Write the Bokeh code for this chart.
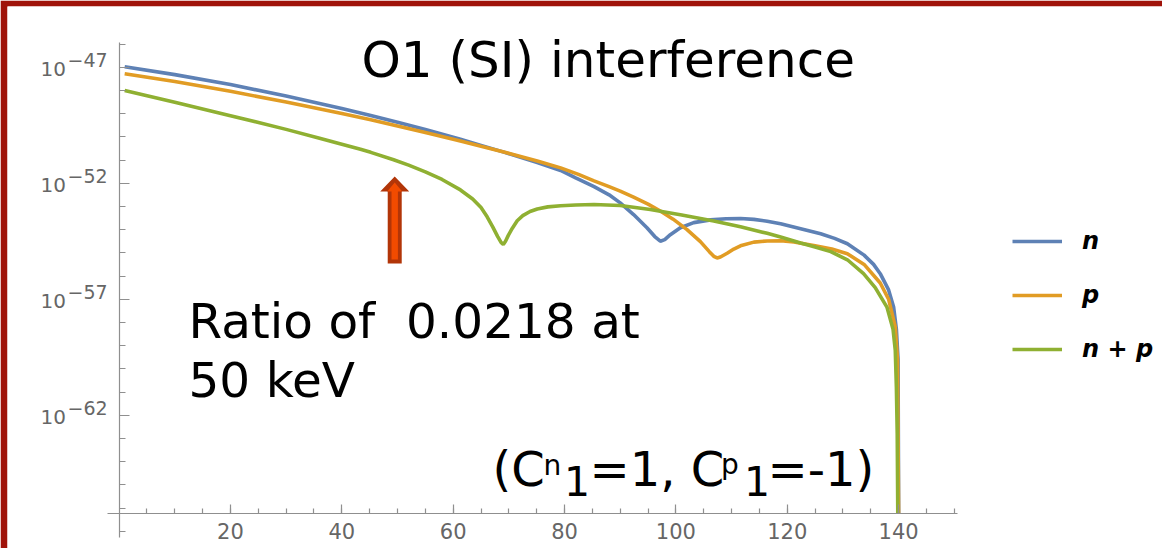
import numpy as np
from bokeh.plotting import figure
from bokeh.models import Range1d, FixedTicker, Label, Legend, LegendItem
from bokeh.embed import file_html
from bokeh.resources import INLINE

# ---------------- data ----------------
# recoil energy [keV] and log10 of the differential rate for each coupling
energy_n = [1, 10, 20, 30, 40, 45.2, 50, 55, 61.3, 65, 69.1, 75.1, 79.3, 82, 85.3, 88,
            90.0, 92.4, 94.8, 96.2, 97.2, 98.0, 99.0, 100.8, 103.2, 106.2, 109.0,
            111.6, 114.0, 116.4, 118.8, 122.4, 126.0, 128.5, 130.8, 133.8, 135.5,
            136.7, 138.2, 139.1, 139.6, 139.9, 140.0]
log_rate_n = [-46.98, -47.32, -47.75, -48.24, -48.78, -49.08, -49.37, -49.69, -50.11,
              -50.37, -50.66, -51.11, -51.45, -51.77, -52.15, -52.5, -52.85, -53.35,
              -53.92, -54.3, -54.5, -54.43, -54.22, -53.92, -53.70, -53.58, -53.53,
              -53.52, -53.56, -53.64, -53.75, -53.96, -54.18, -54.38, -54.61, -55.10,
              -55.50, -55.90, -56.60, -57.34, -58.30, -59.60, -66.22]

energy_p = [1, 10, 20, 30, 40, 45.2, 50, 55, 61.3, 65, 69.1, 75.1, 79.3, 82.5, 85.3,
            88, 90.0, 92.4, 95, 97.2, 99.5, 102.0, 104.4, 106.0, 106.8, 107.4, 108.0,
            109.2, 110.4, 111.6, 114.0, 116.4, 118.8, 121.2, 125.0, 128.0, 130.8,
            133.8, 136.7, 138.2, 139.4, 139.8, 140.0]
log_rate_p = [-47.28, -47.62, -48.04, -48.50, -49.00, -49.27, -49.53, -49.81, -50.18,
              -50.41, -50.66, -51.04, -51.34, -51.62, -51.90, -52.15, -52.34, -52.60,
              -52.90, -53.20, -53.55, -54.00, -54.52, -54.95, -55.15, -55.22, -55.18,
              -55.02, -54.84, -54.70, -54.54, -54.49, -54.48, -54.53, -54.70, -54.84,
              -55.04, -55.50, -56.30, -57.00, -58.20, -59.60, -66.22]

energy_np = [1, 10, 20, 30, 36, 40, 43.35, 45.2, 49.3, 52, 55, 58, 61.3, 63.5, 65,
             66.1, 67.1, 68.0, 68.6, 69.0, 69.4, 69.9, 70.6, 71.5, 72.5, 73.8, 75.1,
             77, 79.3, 82, 85.3, 90.0, 95.4, 100.8, 106.8, 111.6, 116.4, 118.8, 122.4,
             125, 127.8, 130.8, 133.7, 135.8, 137.9, 139.0, 139.4, 139.6, 139.75, 139.85]
log_rate_np = [-48.00, -48.51, -49.09, -49.68, -50.06, -50.32, -50.54, -50.67, -50.99,
               -51.22, -51.51, -51.84, -52.29, -52.68, -53.05, -53.45, -53.88, -54.30,
               -54.55, -54.64, -54.50, -54.25, -53.95, -53.62, -53.40, -53.22, -53.11,
               -53.02, -52.97, -52.94, -52.92, -52.96, -53.13, -53.36, -53.63, -53.88,
               -54.16, -54.32, -54.58, -54.75, -54.95, -55.30, -55.90, -56.50, -57.34,
               -58.30, -59.20, -60.80, -62.80, -66.22]

series_labels = ["n", "p", "n + p"]
series_colors = ["#5E81B5", "#E19C24", "#8FB032"]

x_major_ticks = [20, 40, 60, 80, 100, 120, 140]
x_minor_ticks = list(range(5, 151, 5))
y_major_exponents = [-47, -52, -57, -62]
y_minor_exponents = list(range(-67, -45))

arrow_energy = 49.5   # arrow marks the 50 keV point

# ---------------- geometry ----------------
W, H = 1162, 548
BORDER_L, BORDER_T = 7, 6          # red slide frame on the left and top
X0_PX, PX_PER_KEV = 118.6, 5.568
Y47_PX, PX_PER_DEC = 66.7, 23.2


def xd(px):
    return (px - X0_PX) / PX_PER_KEV


def yd(py):
    return -47 - (py - Y47_PX) / PX_PER_DEC


axis_y = yd(512.7)

p = figure(width=W, height=H, title=None,
           x_range=Range1d(xd(BORDER_L), xd(W)), y_range=Range1d(yd(H), yd(BORDER_T)),
           output_backend="svg", toolbar_location=None,
           min_border_left=BORDER_L, min_border_right=0,
           min_border_top=BORDER_T, min_border_bottom=0)
p.background_fill_color = "white"
p.border_fill_color = "#a0130a"
p.outline_line_color = None
p.xgrid.visible = False
p.ygrid.visible = False

AX_COL = "#8f8f8f"
LAB_COL = "#666666"

p.xaxis.fixed_location = axis_y
p.yaxis.fixed_location = 0
p.xaxis.bounds = (-2.0, 150.5)
p.yaxis.bounds = (yd(537), yd(42))

p.xaxis.ticker = FixedTicker(ticks=x_major_ticks, minor_ticks=x_minor_ticks)
p.yaxis.ticker = FixedTicker(ticks=y_major_exponents, minor_ticks=y_minor_exponents)
for ax in (p.xaxis, p.yaxis):
    ax.axis_line_color = AX_COL
    ax.axis_line_width = 1.2
    ax.major_tick_line_color = AX_COL
    ax.minor_tick_line_color = AX_COL
    ax.major_tick_line_width = 1.2
    ax.minor_tick_line_width = 1.2
    ax.major_tick_out = 0
    ax.minor_tick_out = 0
p.xaxis.major_tick_in = 9
p.xaxis.minor_tick_in = 5
p.yaxis.major_tick_in = 10
p.yaxis.minor_tick_in = 6
p.xaxis.major_label_text_font = "DejaVu Sans"
p.xaxis.major_label_text_font_size = "21px"
p.xaxis.major_label_text_color = LAB_COL
p.xaxis.major_label_standoff = 10
p.yaxis.major_label_overrides = {e: "" for e in y_major_exponents}

BASE_SHIFT = 0.39   # baseline correction (em) for the svg text placement


def txt(px, py, s, size, font="DejaVu Sans", color="black", align="left"):
    p.add_layout(Label(x=xd(px), y=yd(py - BASE_SHIFT * size), text=s, text_font=font,
                       text_font_size=f"{size}px", text_align=align,
                       text_baseline="alphabetic", text_color=color))


# y tick labels as base + exponent
for e in y_major_exponents:
    tick_py = Y47_PX + (-47 - e) * PX_PER_DEC
    txt(65.5, tick_py + 10, "10", 20, color=LAB_COL, align="right")
    txt(67, tick_py + 0.3, "\u2212" + str(abs(e)), 19, color=LAB_COL)

# arrow
k = PX_PER_KEV
a = arrow_energy
p.patch([a - 7 / k, a + 7 / k, a + 7 / k, a + 14.5 / k, a, a - 14.5 / k, a - 7 / k],
        [yd(263), yd(263), yd(191), yd(191), yd(176), yd(191), yd(191)],
        fill_color="#b23508", line_color=None)
p.patch([a - 3.2 / k, a + 3.2 / k, a + 3.2 / k, a + 7.5 / k, a, a - 7.5 / k, a - 3.2 / k],
        [yd(259), yd(259), yd(191), yd(191), yd(182), yd(191), yd(191)],
        fill_color="#f24b00", line_color=None)

# curves
renderers = []
for ex, ly, col in ((energy_n, log_rate_n, series_colors[0]),
                    (energy_p, log_rate_p, series_colors[1]),
                    (energy_np, log_rate_np, series_colors[2])):
    renderers.append(p.line(ex, ly, line_color=col, line_width=3.6))

legend = Legend(items=[LegendItem(label=lab, renderers=[r]) for lab, r in zip(series_labels, renderers)],
                location=(1012 - BORDER_L, H - 364),
                glyph_width=50, glyph_height=30, label_height=30, spacing=24,
                padding=0, margin=0, label_standoff=20,
                label_text_font="DejaVu Sans", label_text_font_style="bold italic",
                label_text_font_size="24px", label_text_color="black",
                border_line_color=None, background_fill_alpha=0)
p.add_layout(legend)

# annotations
txt(361, 79, "O1 (SI) interference", 50)
txt(188, 339, "Ratio of\u00a0 0.0218 at", 48.5)
txt(188, 398, "50 keV", 48.5)
txt(492, 487, "(C", 48)
txt(543, 476, "n", 28)
txt(563.5, 496, "1", 41)
txt(589, 487, "=1, C", 48)
txt(720.5, 475, "p", 28)
txt(743.5, 496, "1", 41)
txt(767, 487, "=-1)", 48)

open("out.html", "w").write(file_html(p, INLINE))
